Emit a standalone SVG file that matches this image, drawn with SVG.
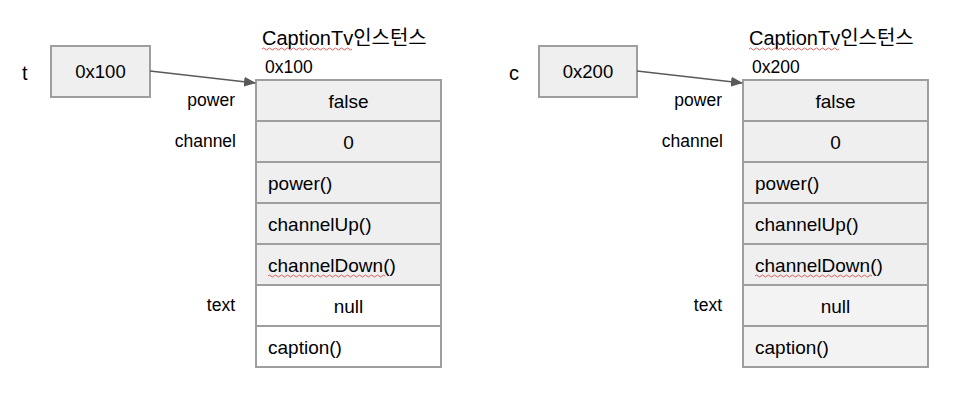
<svg xmlns="http://www.w3.org/2000/svg" width="972" height="402" viewBox="0 0 972 402">
<defs>
<style>
text{font-family:Arial,"Liberation Sans","Noto Sans CJK KR",sans-serif;fill:#000}
.box{fill:#efefef;stroke:#9e9e9e;stroke-width:2}
.wbox{fill:#ffffff;stroke:#9e9e9e;stroke-width:2}
.lbox{fill:#f3f3f3;stroke:#9e9e9e;stroke-width:2}
.lbl{font-size:17.5px;text-anchor:end}
.cell{font-size:19px}
.vb{font-size:18.5px}
.c{text-anchor:middle}
.title{font-size:20px}
.addr{font-size:17.5px}
.var{font-size:20px}
.sq{fill:none;stroke:#e06060;stroke-width:1}
.conn{stroke:#595959;stroke-width:1.3;fill:none}
</style>
<marker id="ah" markerWidth="12" markerHeight="10" refX="11" refY="5" orient="auto" markerUnits="userSpaceOnUse">
<path d="M0,0 L12,5 L0,10 Z" fill="#595959"/>
</marker>
</defs>

<g id="var-t">
<text class="var" x="22" y="80">t</text>
<rect class="box" x="51" y="46" width="99" height="51"/>
<text class="vb c" x="100.5" y="78">0x100</text>
</g>

<g id="instance-t">
<text class="title" x="262" y="45">CaptionTv인스턴스</text>
<path class="sq" d="M262,49 q1.5,-2 3,0 t3,0 t3,0 t3,0 t3,0 t3,0 t3,0 t3,0 t3,0 t3,0 t3,0 t3,0 t3,0 t3,0 t3,0 t3,0 t3,0 t3,0 t3,0 t3,0 t3,0 t3,0 t3,0 t3,0 t3,0 t3,0 t3,0 t3,0 t3,0 t3,0"/>
<text class="addr" x="265" y="73">0x100</text>
<rect class="box" x="256" y="80" width="185" height="41"/>
<rect class="box" x="256" y="121" width="185" height="41"/>
<rect class="box" x="256" y="162" width="185" height="41"/>
<rect class="box" x="256" y="203" width="185" height="41"/>
<rect class="box" x="256" y="244" width="185" height="41"/>
<rect class="wbox" x="256" y="285" width="185" height="41"/>
<rect class="wbox" x="256" y="326" width="185" height="41"/>
<text class="lbl" x="235" y="106">power</text>
<text class="lbl" x="236" y="147">channel</text>
<text class="lbl" x="235" y="311">text</text>
<text class="cell c" x="348.5" y="108">false</text>
<text class="cell c" x="348.5" y="149">0</text>
<text class="cell" x="268" y="190">power()</text>
<text class="cell" x="268" y="231">channelUp()</text>
<text class="cell" x="268" y="272">channelDown()</text>
<path class="sq" d="M268,276 q1.5,-2 3,0 t3,0 t3,0 t3,0 t3,0 t3,0 t3,0 t3,0 t3,0 t3,0 t3,0 t3,0 t3,0 t3,0 t3,0 t3,0 t3,0 t3,0 t3,0 t3,0 t3,0 t3,0 t3,0 t3,0 t3,0 t3,0 t3,0 t3,0 t3,0 t3,0 t3,0 t3,0 t3,0 t3,0 t3,0 t3,0 t3,0 t3,0 t3,0"/>
<text class="cell c" x="348.5" y="313">null</text>
<text class="cell" x="268" y="354">caption()</text>
</g>

<g id="var-c">
<text class="var" x="509" y="80">c</text>
<rect class="box" x="539" y="46" width="98" height="51"/>
<text class="vb c" x="588" y="78">0x200</text>
</g>

<g id="instance-c">
<text class="title" x="749" y="45">CaptionTv인스턴스</text>
<path class="sq" d="M749,49 q1.5,-2 3,0 t3,0 t3,0 t3,0 t3,0 t3,0 t3,0 t3,0 t3,0 t3,0 t3,0 t3,0 t3,0 t3,0 t3,0 t3,0 t3,0 t3,0 t3,0 t3,0 t3,0 t3,0 t3,0 t3,0 t3,0 t3,0 t3,0 t3,0 t3,0 t3,0"/>
<text class="addr" x="752" y="73">0x200</text>
<rect class="box" x="743" y="80" width="185" height="41"/>
<rect class="box" x="743" y="121" width="185" height="41"/>
<rect class="box" x="743" y="162" width="185" height="41"/>
<rect class="box" x="743" y="203" width="185" height="41"/>
<rect class="box" x="743" y="244" width="185" height="41"/>
<rect class="lbox" x="743" y="285" width="185" height="41"/>
<rect class="lbox" x="743" y="326" width="185" height="41"/>
<text class="lbl" x="722" y="106">power</text>
<text class="lbl" x="723" y="147">channel</text>
<text class="lbl" x="722" y="311">text</text>
<text class="cell c" x="835.5" y="108">false</text>
<text class="cell c" x="835.5" y="149">0</text>
<text class="cell" x="755" y="190">power()</text>
<text class="cell" x="755" y="231">channelUp()</text>
<text class="cell" x="755" y="272">channelDown()</text>
<path class="sq" d="M755,276 q1.5,-2 3,0 t3,0 t3,0 t3,0 t3,0 t3,0 t3,0 t3,0 t3,0 t3,0 t3,0 t3,0 t3,0 t3,0 t3,0 t3,0 t3,0 t3,0 t3,0 t3,0 t3,0 t3,0 t3,0 t3,0 t3,0 t3,0 t3,0 t3,0 t3,0 t3,0 t3,0 t3,0 t3,0 t3,0 t3,0 t3,0 t3,0 t3,0 t3,0"/>
<text class="cell c" x="835.5" y="313">null</text>
<text class="cell" x="755" y="354">caption()</text>
</g>

<g id="connectors">
<line class="conn" x1="150" y1="71" x2="255" y2="83" marker-end="url(#ah)"/>
<line class="conn" x1="637" y1="71" x2="742" y2="83" marker-end="url(#ah)"/>
</g>
</svg>
